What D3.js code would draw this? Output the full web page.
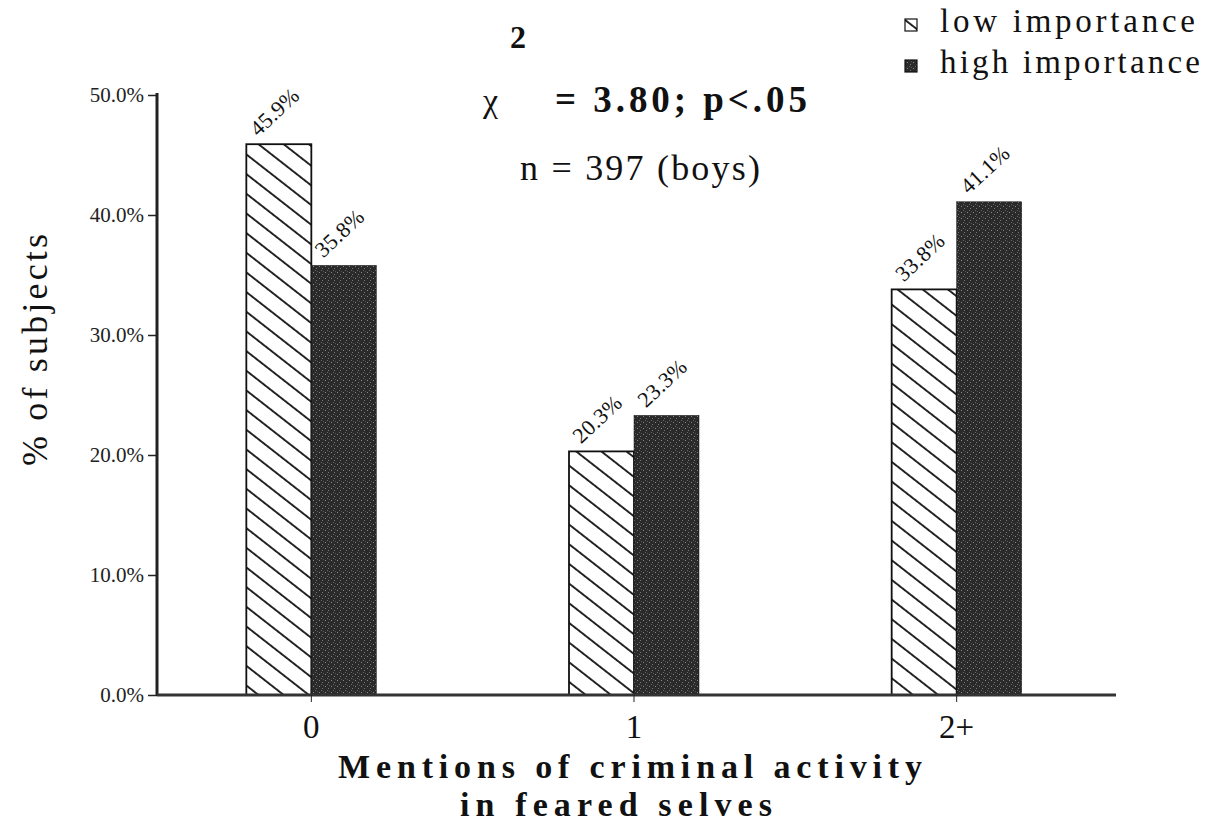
<!DOCTYPE html>
<html><head><meta charset="utf-8">
<script src="https://cdn.jsdelivr.net/npm/d3@7"></script>
<style>body{margin:0;background:#fff}svg{display:block}</style>
</head><body><svg id="c" width="1216" height="824"></svg>
<script>
const categories = ["0", "1", "2+"];
const seriesNames = ["low importance", "high importance"];
const lowValues = [45.9, 20.3, 33.8];
const highValues = [35.8, 23.3, 41.1];
const yTicks = [0, 10, 20, 30, 40, 50];

const svg = d3.select("#c");
const serif = "'Liberation Serif','DejaVu Serif',serif";
const ink = "#111";
const defs = svg.append("defs");
const ph = 15.5;
const pat = defs.append("pattern").attr("id","hatch").attr("patternUnits","userSpaceOnUse")
  .attr("width",ph).attr("height",ph).attr("patternTransform","rotate(38)");
pat.append("rect").attr("width",ph).attr("height",ph).attr("fill","#fff");
pat.append("line").attr("x1",0).attr("y1",1).attr("x2",ph).attr("y2",1).attr("stroke",ink).attr("stroke-width",1.8);
const dp = defs.append("pattern").attr("id","dark").attr("patternUnits","userSpaceOnUse").attr("width",6).attr("height",6);
dp.append("rect").attr("width",6).attr("height",6).attr("fill","#2a2a2a");
dp.append("rect").attr("x",1).attr("y",2).attr("width",1).attr("height",1).attr("fill","#888");
dp.append("rect").attr("x",4).attr("y",4).attr("width",1).attr("height",1).attr("fill","#777");
dp.append("rect").attr("x",3).attr("y",0).attr("width",1).attr("height",1).attr("fill","#666");
dp.append("rect").attr("x",5).attr("y",1).attr("width",1).attr("height",1).attr("fill","#555");

const x = d3.scaleBand().domain(categories).range([150,1118]);
const y = d3.scaleLinear().domain([0,50]).range([695,95]);
const bw = 65;

const g = svg.append("g");
categories.forEach((c,i)=>{
  const cx = x(c) + x.bandwidth()/2;
  const vals = [lowValues[i], highValues[i]];
  vals.forEach((v,j)=>{
    const x0 = j===0 ? cx-bw : cx;
    g.append("rect").attr("x",x0).attr("y",y(v)).attr("width",bw).attr("height",y(0)-y(v))
      .attr("fill", j===0 ? "url(#hatch)" : "url(#dark)")
      .attr("stroke",ink).attr("stroke-width", j===0?1.8:0.5);
    g.append("text").attr("transform",`translate(${x0+12},${y(v)-7}) rotate(-43)`)
      .attr("font-family",serif).attr("font-size",22).attr("letter-spacing",0.3).attr("fill",ink).text(v.toFixed(1)+"%");
  });
});

// axes
const ya = svg.append("g").attr("transform","translate(157,0)")
  .call(d3.axisLeft(y).tickValues(yTicks).tickFormat(d=>d.toFixed(1)+"%").tickSize(9).tickPadding(4));
ya.select(".domain").attr("stroke","#222").attr("stroke-width",3).attr("d","M0,93V696");
ya.selectAll(".tick line").attr("stroke","#222").attr("stroke-width",1.5);
ya.selectAll(".tick text").attr("font-family",serif).attr("font-size",21).attr("fill","#222");

const xa = svg.append("g").attr("transform","translate(0,695)")
  .call(d3.axisBottom(x).tickSize(7));
xa.select(".domain").attr("stroke","#333").attr("stroke-width",3).attr("d","M157,0H1116");
xa.selectAll(".tick line").attr("stroke","#222").attr("stroke-width",1);
xa.selectAll(".tick text").attr("font-family",serif).attr("font-size",33).attr("fill",ink).attr("y",43).attr("dy",0);

// axis titles
svg.append("text").attr("transform","translate(47,466) rotate(-90)")
  .attr("font-family",serif).attr("font-size",36).attr("textLength",232).attr("lengthAdjust","spacing").attr("fill",ink)
  .text("% of subjects");
svg.append("text").attr("x",338).attr("y",778).attr("font-family",serif).attr("font-weight","bold")
  .attr("font-size",34).attr("textLength",584).attr("lengthAdjust","spacing").attr("fill",ink)
  .text("Mentions of criminal activity");
svg.append("text").attr("x",460).attr("y",816).attr("font-family",serif).attr("font-weight","bold")
  .attr("font-size",34).attr("textLength",312).attr("lengthAdjust","spacing").attr("fill",ink)
  .text("in feared selves");

// annotations
svg.append("text").attr("x",510).attr("y",48).attr("font-family",serif).attr("font-weight","bold").attr("font-size",32).attr("fill",ink).text("2");
svg.append("text").attr("x",483).attr("y",112).attr("font-family",serif).attr("font-size",34).attr("fill",ink).text("χ");
svg.append("text").attr("x",555).attr("y",112).attr("font-family",serif).attr("font-weight","bold").attr("font-size",37)
  .attr("textLength",252).attr("lengthAdjust","spacing").attr("fill",ink).text("= 3.80;  p<.05");
svg.append("text").attr("x",520).attr("y",180).attr("font-family",serif).attr("font-size",36)
  .attr("textLength",240).attr("lengthAdjust","spacing").attr("fill",ink).text("n = 397 (boys)");

// legend
const legY = [32, 73];
const legW = [255, 260];
seriesNames.forEach((s,i)=>{
  svg.append("rect").attr("x",905).attr("y",legY[i]-13).attr("width",12).attr("height",12)
    .attr("fill", i===0 ? "url(#hatch)" : "url(#dark)").attr("stroke",ink).attr("stroke-width",1.2);
  svg.append("text").attr("x",940).attr("y",legY[i]).attr("font-family",serif).attr("font-size",33)
    .attr("textLength",legW[i]).attr("lengthAdjust","spacing").attr("fill",ink).text(s);
});
</script></body></html>
